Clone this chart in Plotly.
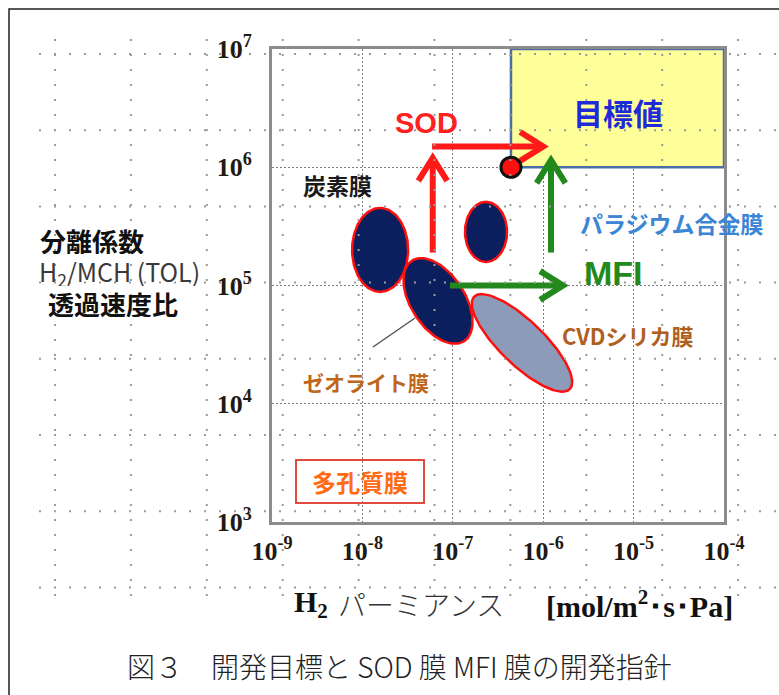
import numpy as np
import plotly.graph_objects as go

# ---------------- data ----------------
# decade ticks of both log axes
x_tick_exp = [-9, -8, -7, -6, -5, -4]
y_tick_exp = [3, 4, 5, 6, 7]

# membrane regions: centre (H2 permeance, separation factor), spread
region_keys = ["carbon_a", "carbon_b", "cvd_silica", "zeolite"]
region_perm = [1.57e-8, 2.33e-7, 5.83e-7, 6.86e-8]
region_sep = [2.0e5, 2.84e5, 3.27e4, 7.4e4]
region_half_major = [0.355, 0.254, 0.562, 0.406]   # in decades of separation factor
region_half_minor = [0.237, 0.178, 0.186, 0.228]
region_tilt_deg = [90, 90, -44, -57]

# development target region
target_perm = [4.4e-7, 1.0e-4]
target_sep = [1.0e6, 1.0e7]

# present best result
best_perm = [4.4e-7]
best_sep = [1.0e6]

# development routes (start -> end)
route_group = ["SOD", "SOD", "MFI", "MFI"]
route_perm0 = [6.0e-8, 5.9e-8, 1.22e-6, 9.3e-8]
route_sep0 = [1.9e5, 1.5e6, 1.9e5, 1.0e5]
route_perm1 = [6.0e-8, 1.0e-6, 1.22e-6, 1.66e-6]
route_sep1 = [1.2e6, 1.5e6, 1.15e6, 1.0e5]

# ---------------- layout geometry ----------------
W, H = 779, 695
X_DOM = [272 / W, 724 / W]
Y_DOM = [1 - 522 / H, 1 - 49 / H]
X_RANGE = [-9, -4]
Y_RANGE = [3, 7]
PX_X = (X_DOM[1] - X_DOM[0]) * W / (X_RANGE[1] - X_RANGE[0])
PX_Y = (Y_DOM[1] - Y_DOM[0]) * H / (Y_RANGE[1] - Y_RANGE[0])
ASPECT = PX_Y / PX_X  # x-decades per screen length of one y-decade

CJK = "Noto Sans CJK JP"
SERIF = "Liberation Serif"
SANS = "Liberation Sans"

region_style = {
    "carbon_a": dict(fill="#0b1f5e"),
    "carbon_b": dict(fill="#0b1f5e"),
    "cvd_silica": dict(fill="#8b9bb9"),
    "zeolite": dict(fill="#0b1f5e"),
}
route_color = {"SOD": "#ff1a1a", "MFI": "#24891c"}


def ellipse_path(perm, sep, a, b, tilt_deg, n=180):
    t = np.linspace(0, 2 * np.pi, n)
    th = np.radians(tilt_deg)
    u = a * np.cos(t) * np.cos(th) - b * np.sin(t) * np.sin(th)
    v = a * np.cos(t) * np.sin(th) + b * np.sin(t) * np.cos(th)
    lx = np.log10(perm) + u * ASPECT
    ly = np.log10(sep) + v
    return 10 ** lx, 10 ** ly


def arrow_path(p0, s0, p1, s1, head=0.23, spread=32):
    lx0, ly0, lx1, ly1 = np.log10([p0, s0, p1, s1])
    du, dv = (lx1 - lx0) / ASPECT, ly1 - ly0
    n = np.hypot(du, dv)
    du, dv = du / n, dv / n
    arms = []
    for s in (1, -1):
        ang = np.radians(180 + s * spread)
        ru = du * np.cos(ang) - dv * np.sin(ang)
        rv = du * np.sin(ang) + dv * np.cos(ang)
        arms.append((lx1 + head * ru * ASPECT, ly1 + head * rv))
    xs = [lx0, lx1, None, arms[0][0], lx1, arms[1][0]]
    ys = [ly0, ly1, None, arms[0][1], ly1, arms[1][1]]
    xs = [None if v is None else 10 ** v for v in xs]
    ys = [None if v is None else 10 ** v for v in ys]
    return xs, ys


fig = go.Figure()

# target region
fig.add_trace(go.Scatter(
    x=[target_perm[0], target_perm[1], target_perm[1], target_perm[0], target_perm[0]],
    y=[target_sep[0], target_sep[0], target_sep[1], target_sep[1], target_sep[0]],
    mode="lines", fill="toself", fillcolor="#ffff99",
    line=dict(color="#4a6fa5", width=2.5), hoverinfo="skip", showlegend=False))

# membrane regions
for k, p, s, a, b, t in zip(region_keys, region_perm, region_sep,
                            region_half_major, region_half_minor, region_tilt_deg):
    ex, ey = ellipse_path(p, s, a, b, t)
    fig.add_trace(go.Scatter(
        x=ex, y=ey, mode="lines", fill="toself",
        fillcolor=region_style[k]["fill"],
        line=dict(color="#ff1010", width=2.5), hoverinfo="skip", showlegend=False))

# development routes
for g, p0, s0, p1, s1 in zip(route_group, route_perm0, route_sep0, route_perm1, route_sep1):
    ax_, ay_ = arrow_path(p0, s0, p1, s1)
    fig.add_trace(go.Scatter(
        x=ax_, y=ay_, mode="lines",
        line=dict(color=route_color[g], width=6), hoverinfo="skip", showlegend=False))

# present best result
fig.add_trace(go.Scatter(
    x=best_perm, y=best_sep, mode="markers",
    marker=dict(size=20, color="#ff1010", line=dict(color="#111111", width=3)),
    hoverinfo="skip", showlegend=False))


def label(text, px, py, size, color, family=CJK, weight="bold", xanchor="center", **kw):
    return dict(text=text, x=px / W, y=1 - py / H, xref="paper", yref="paper",
                xanchor=xanchor, yanchor="middle", showarrow=False,
                font=dict(family=family, size=size, color=color, weight=weight), **kw)


annotations = [
    label("目標値", 618, 112, 30, "#1f2ad8"),
    label("SOD", 427, 123, 29, "#ff2020", family=SANS),
    label("炭素膜", 337, 185, 23, "#1a1a1a"),
    label("パラジウム合金膜", 672, 223, 23, "#3a85d5"),
    label("MFI", 613, 273, 34, "#24891c", family=SANS),
    label("CVDシリカ膜", 628, 335, 22, "#b0601e"),
    label("ゼオライト膜", 366, 382, 21, "#c0661c"),
    label("多孔質膜", 360, 481, 24, "#ff6a13",
          bordercolor="#e04a3c", borderwidth=2, borderpad=1, width=124, height=39),
    # y-axis title (three stacked lines)
    label("分離係数", 92, 241, 26, "#111111", height=27, borderpad=0),
    label("H<sub>2</sub>/MCH (TOL)", 38, 273, 25, "#3a3a3a", weight="normal",
          xanchor="left", height=27, borderpad=0),
    label("透過速度比", 113, 303, 26, "#111111", height=27, borderpad=0),
    # x-axis title
    label("H<sub>2</sub>", 292, 604, 30, "#111111", family=SERIF, xanchor="left"),
    label("パーミアンス", 336, 604, 28, "#333333", weight=300, xanchor="left"),
    label("[mol/m<sup>2</sup>･s･Pa]", 544, 604, 30, "#111111", family=SERIF, xanchor="left"),
    # caption
    label("図３　開発目標と SOD 膜 MFI 膜の開発指針", 399, 666, 28, "#222222", weight=300),
]

shapes = []
# outer frame
shapes.append(dict(type="rect", xref="paper", yref="paper",
                   x0=9 / W, x1=1.05, y0=1 - 9 / H, y1=-0.05,
                   line=dict(color="#222222", width=1.5), layer="below"))
# leader line to zeolite label
shapes.append(dict(type="line", xref="paper", yref="paper",
                   x0=373 / W, y0=1 - 347 / H, x1=415 / W, y1=1 - 318 / H,
                   line=dict(color="#555555", width=1.5), layer="above"))
# background dotted sheet grid
DOT = dict(color="#9a9a9a", width=2, dash="2px,13px")
for k in range(8):
    yy = 54 + 76.2 * k
    shapes.append(dict(type="line", xref="paper", yref="paper",
                       x0=39 / W, x1=1.0, y0=1 - yy / H, y1=1 - yy / H,
                       line=DOT, layer="above"))
for k in range(10):
    xx = 55 + 75.9 * k
    shapes.append(dict(type="line", xref="paper", yref="paper",
                       x0=xx / W, x1=xx / W, y0=1 - 39 / H, y1=1 - 598 / H,
                       line=DOT, layer="above"))

axis_common = dict(
    type="log", showgrid=True, gridcolor="#7a7a7a", gridwidth=1, griddash="2px,2px",
    showline=True, mirror=True, linecolor="#8c8c8c", linewidth=3,
    zeroline=False, ticks="outside", tickcolor="rgba(0,0,0,0)",
    tickfont=dict(family=SERIF, size=26, color="#1f1a14"),
)

fig.update_layout(
    width=W, height=H,
    margin=dict(l=0, r=0, t=0, b=0, autoexpand=False),
    paper_bgcolor="white", plot_bgcolor="rgba(0,0,0,0)",
    xaxis=dict(axis_common, domain=X_DOM, range=X_RANGE, ticklen=4,
               tickvals=[10.0 ** e for e in x_tick_exp],
               ticktext=[f"<b>10<sup>{e}</sup></b>" for e in x_tick_exp]),
    yaxis=dict(axis_common, domain=Y_DOM, range=Y_RANGE, ticklen=12,
               tickvals=[10.0 ** e for e in y_tick_exp],
               ticktext=[f"<b>10<sup>{e}</sup></b>" for e in y_tick_exp]),
    annotations=annotations,
    shapes=shapes,
    showlegend=False,
)

fig.write_html(
    "out.html",
    post_script="document.body.style.margin='0';document.body.style.overflow='hidden';",
)
